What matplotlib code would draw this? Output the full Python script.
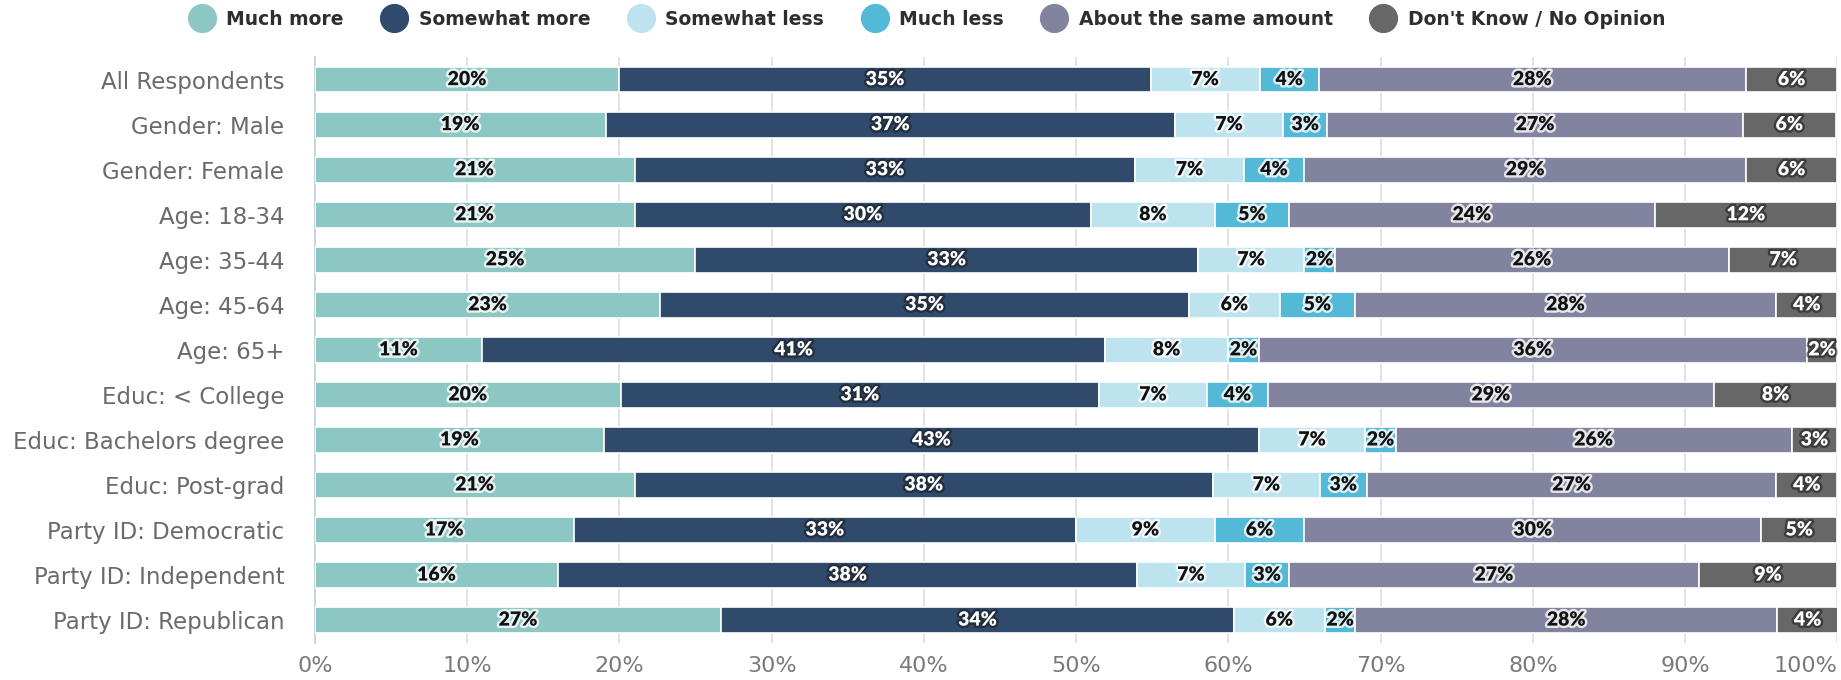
import matplotlib
matplotlib.use("Agg")
import matplotlib.pyplot as plt
import matplotlib.patheffects as pe
from matplotlib.lines import Line2D
import numpy as np

groups = ["All Respondents", "Gender: Male", "Gender: Female", "Age: 18-34", "Age: 35-44",
          "Age: 45-64", "Age: 65+", "Educ: < College", "Educ: Bachelors degree", "Educ: Post-grad",
          "Party ID: Democratic", "Party ID: Independent", "Party ID: Republican"]

series_names = ["Much more", "Somewhat more", "Somewhat less", "Much less",
                "About the same amount", "Don't Know / No Opinion"]

much_more = [20.0, 19.1, 21.0, 21.0, 25.0, 22.7, 11.0, 20.1, 19.0, 21.0, 17.0, 16.0, 26.7]
somewhat_more = [34.9, 37.4, 32.9, 30.0, 33.0, 34.7, 40.9, 31.4, 43.0, 38.0, 33.0, 38.0, 33.65]
somewhat_less = [7.15, 7.1, 7.1, 8.1, 7.0, 6.0, 8.1, 7.1, 7.0, 7.0, 9.1, 7.1, 6.0]
much_less = [3.9, 2.9, 4.0, 4.9, 2.0, 4.9, 2.0, 4.0, 2.0, 3.1, 5.9, 2.9, 2.0]
about_same = [28.05, 27.3, 29.0, 24.0, 25.9, 27.7, 36.0, 29.3, 26.0, 26.9, 30.0, 26.9, 27.7]
dont_know = [6.0, 6.1, 6.0, 12.0, 7.1, 4.0, 2.0, 8.1, 3.0, 4.0, 5.0, 9.1, 4.0]

colors = ["#8cc7c3", "#304a6c", "#bde3ef", "#53b9d6", "#82839f", "#666766"]
text_dark = [True, False, True, True, True, False]

data = [much_more, somewhat_more, somewhat_less, much_less, about_same, dont_know]

plt.rcParams["font.family"] = ["DejaVu Sans"]

fig = plt.figure(figsize=(18.41, 6.8), dpi=100)
ax = fig.add_axes([0.171, 0.055, 0.827, 0.861])

y = np.arange(len(groups))
left = np.zeros(len(groups))
for vals, col, dark in zip(data, colors, text_dark):
    vals = np.array(vals)
    ax.barh(y, vals, left=left, height=0.57, color=col, edgecolor="white", linewidth=1.2, zorder=3)
    for yi, (l, v) in enumerate(zip(left, vals)):
        if dark:
            fx = [pe.withStroke(linewidth=3.5, foreground="white", alpha=0.8)]
            tc = "#111111"
        else:
            fx = [pe.withStroke(linewidth=3.5, foreground="#1a1a1a", alpha=0.55)]
            tc = "white"
        ax.text(l + v / 2, yi, f"{v:.0f}%", ha="center", va="center", fontsize=14,
                fontweight="heavy", color=tc, path_effects=fx, zorder=4,
                fontfamily=["Lato", "DejaVu Sans"])
    left = left + vals

ax.set_xlim(0, 100)
ax.set_ylim(len(groups) - 0.5, -0.5)
ax.set_xticks(np.arange(0, 101, 10))
ax.set_xticklabels([f"{t}%" for t in range(0, 101, 10)])
ax.set_yticks(y)
ax.set_yticklabels(groups)
ax.tick_params(axis="y", length=0, labelsize=16.5, labelcolor="#6a6a6a", pad=22)
ax.tick_params(axis="x", length=0, labelsize=16, labelcolor="#7a7a7a", pad=10)
ax.get_xticklabels()[-1].set_horizontalalignment("right")
ax.grid(axis="x", color="#dddddd", linewidth=1.2, zorder=0)
for s in ["top", "right", "bottom"]:
    ax.spines[s].set_visible(False)
ax.spines["left"].set_color("#c8d4e0")
ax.spines["left"].set_linewidth(1.5)

handles = [Line2D([0], [0], marker="o", linestyle="", markersize=20, markerfacecolor=c,
                  markeredgecolor=c) for c in colors]
fig.legend(handles, series_names, loc="center", bbox_to_anchor=(0.502, 0.972), ncol=6,
           frameon=False, prop={"weight": "bold", "size": 13.5}, handletextpad=0.3,
           columnspacing=1.7, labelcolor="#2e2e2e")

fig.savefig("out.png", dpi=100)
